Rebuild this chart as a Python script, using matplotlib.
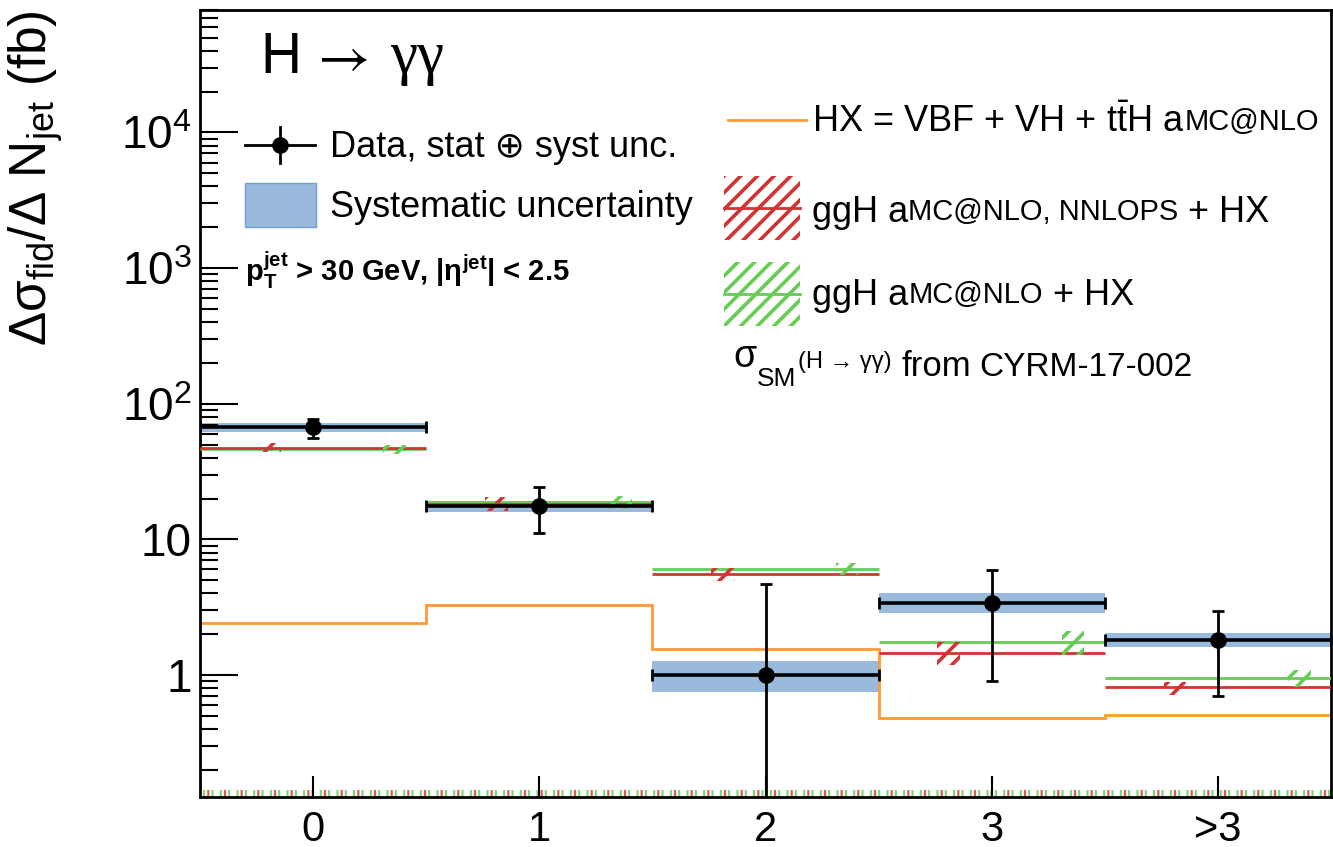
import matplotlib
matplotlib.use('Agg')
import matplotlib.pyplot as plt
import numpy as np
from matplotlib.patches import Rectangle
from matplotlib.lines import Line2D
from matplotlib.ticker import FixedLocator, LogLocator, NullFormatter

plt.rcParams['font.family'] = ['Liberation Sans', 'DejaVu Sans']
plt.rcParams['mathtext.fontset'] = 'custom'
plt.rcParams['mathtext.rm'] = 'Liberation Sans'
plt.rcParams['mathtext.it'] = 'Liberation Sans:italic'
plt.rcParams['mathtext.bf'] = 'Liberation Sans:bold'
plt.rcParams['hatch.linewidth'] = 2.6

# values
njet_labels = ['0', '1', '2', '3', '>3']
data = np.array([67, 17.6, 1.0, 3.39, 1.81])
data_up = np.array([77, 24.3, 4.68, 5.94, 2.96])
data_dn = np.array([55.8, 11.1, 0.0, 0.90, 0.70])
syst_up = np.array([72, 19.1, 1.27, 4.02, 2.04])
syst_dn = np.array([62, 15.9, 0.75, 2.86, 1.61])
hx = np.array([2.42, 3.28, 1.55, 0.48, 0.51])
nnlops = np.array([47, 18.2, 5.55, 1.45, 0.82])
nnlops_up = np.array([51, 20.5, 6.2, 1.75, 0.89])
nnlops_dn = np.array([44, 16.2, 4.9, 1.18, 0.71])
amcnlo = np.array([46, 18.8, 6.03, 1.75, 0.95])
amcnlo_up = np.array([50, 21, 6.7, 2.1, 1.09])
amcnlo_dn = np.array([42.6, 16.8, 5.5, 1.4, 0.82])

blue = '#99b9dd'
blue_edge = '#6f9fd6'
orange = '#ff9933'
red = '#d23333'
green = '#66cc55'

W, H = 1333, 847
fig = plt.figure(figsize=(W / 100, H / 100), dpi=100)
ax = fig.add_axes([200 / W, 50 / H, 1131 / W, 787 / H])

YMIN, YMAX = 0.126, 8e4
x = np.arange(len(data))
edges = np.arange(-0.5, len(data) + 0.5, 1.0)

# systematic band
ax.bar(x, syst_up - syst_dn, bottom=syst_dn, width=1.0, color=blue, lw=0, zorder=1)

# hatched leftovers of the theory bands along the x axis
with plt.rc_context({'hatch.linewidth': 1.6}):
    ax.bar(x, np.full(len(x), YMIN * 0.12), bottom=YMIN, width=1.0, facecolor='none',
           edgecolor=green, hatch='||', lw=0, alpha=0.8, zorder=1)
    ax.bar(x, np.full(len(x), YMIN * 0.12), bottom=YMIN, width=1.0, facecolor='none',
           edgecolor=red, hatch='|', lw=0, alpha=0.8, zorder=1)

# predictions
ax.stairs(hx, edges, color=orange, lw=2, baseline=None, zorder=2)
ax.hlines(amcnlo, x - 0.5, x + 0.5, color=green, lw=2, zorder=3)
ax.hlines(nnlops, x - 0.5, x + 0.5, color=red, lw=2, zorder=3)
ax.bar(x - 0.19, nnlops_up - nnlops_dn, bottom=nnlops_dn, width=0.1,
       facecolor='none', edgecolor=red, hatch='//', lw=0, zorder=3)
ax.bar(x + 0.36, amcnlo_up - amcnlo_dn, bottom=amcnlo_dn, width=0.1,
       facecolor='none', edgecolor=green, hatch='//', lw=0, zorder=3)

# data
ax.errorbar(x, data, xerr=0.5, fmt='none', ecolor='k', elinewidth=2.6,
            capsize=4, capthick=2, zorder=5)
ax.errorbar(x, data, yerr=[data - data_dn, data_up - data], fmt='o', color='k',
            ms=11, elinewidth=2, capsize=4, capthick=2, zorder=6)

ax.set_yscale('log')
ax.set_xlim(-0.5, 4.5)
ax.set_ylim(YMIN, YMAX)
ax.yaxis.set_major_locator(FixedLocator([1, 10, 100, 1000, 10000]))
ax.set_yticklabels(['1', '10', '$10^{2}$', '$10^{3}$', '$10^{4}$'])
ax.yaxis.set_minor_locator(LogLocator(base=10, subs=np.arange(2, 10)))
ax.yaxis.set_minor_formatter(NullFormatter())
ax.set_xticks(x, njet_labels)
ax.tick_params(axis='y', which='major', direction='in', length=27, width=1.5,
               labelsize=33, pad=6)
ax.tick_params(axis='y', which='minor', direction='in', length=13, width=1.5)
ax.tick_params(axis='x', which='major', direction='in', length=15, width=1.5,
               labelsize=30, pad=9)
for s in ax.spines.values():
    s.set_linewidth(2)


def fx(px):
    return px / W


def fy(py):
    return 1 - py / H


renderer = fig.canvas.get_renderer()


def rich_text(x0, base, pieces, **kw):
    # pieces: (text, fontsize, gap in px after it, raise in px)
    xx = x0
    for s, size, gap, dy in pieces:
        t = fig.text(fx(xx), fy(base - dy), s, fontsize=size, va='baseline', ha='left', **kw)
        xx += t.get_window_extent(renderer).width + gap


# left legend
fig.add_artist(Line2D([fx(245), fx(315)], [fy(145), fy(145)], color='k', lw=2,
                      transform=fig.transFigure))
fig.add_artist(Line2D([fx(280), fx(280)], [fy(127), fy(163)], color='k', lw=2,
                      transform=fig.transFigure))
fig.add_artist(Line2D([fx(280)], [fy(145)], marker='o', ms=11, color='k',
                      transform=fig.transFigure))
fig.add_artist(Rectangle((fx(245), fy(227)), fx(316) - fx(245), fy(183) - fy(227),
                         facecolor=blue, edgecolor=blue_edge, lw=1,
                         transform=fig.transFigure))
rich_text(330, 157, [('Data, stat ⊕ syst unc.', 26, 0, 0)])
rich_text(330, 217, [('Systematic uncertainty', 26, 0, 0)])
rich_text(245, 281, [(r'$\mathbf{p_{T}^{jet}}$ > 30 GeV, |η$^{\mathbf{jet}}$| < 2.5', 21, 0, 0)],
          fontweight='bold')

# right legend
fig.add_artist(Line2D([fx(728), fx(806)], [fy(120), fy(120)], color=orange, lw=2,
                      transform=fig.transFigure))
for col, top in [(red, 176), (green, 262)]:
    fig.add_artist(Rectangle((fx(724), fy(top + 64)), fx(800) - fx(724), fy(top) - fy(top + 64),
                             facecolor='none', edgecolor=col, hatch='//', lw=0,
                             transform=fig.transFigure))
    fig.add_artist(Line2D([fx(724), fx(800)], [fy(top + 32), fy(top + 32)], color=col, lw=2,
                          transform=fig.transFigure))
rich_text(812, 132, [(r'HX = VBF + VH + t$\bar{\mathrm{t}}$H a', 26, 0, 0), ('MC@NLO', 21, 0, 2)])
rich_text(812, 222, [('ggH a', 26, 0, 0), ('MC@NLO, NNLOPS', 21, 10, 2), ('+ HX', 26, 0, 0)])
rich_text(812, 305, [('ggH a', 26, 0, 0), ('MC@NLO', 21, 10, 2), ('+ HX', 26, 0, 0)])
rich_text(733, 376, [('σ', 27, 1, 9), ('SM', 19, 1, -10), ('(H → γγ)', 17, 10, 8),
                     ('from', 25, 8, 0), ('CYRM-17-002', 24, 0, 0)])

# title and axis title
fig.text(fx(260), fy(73), 'H', fontsize=41, va='baseline', ha='left')
fig.text(fx(309), fy(73), r'$\rightarrow$', fontsize=41, va='baseline',
         ha='left', math_fontfamily='stix')
fig.text(fx(390), fy(73), 'γγ', fontsize=44, va='baseline', ha='left',
         family=['Liberation Serif', 'DejaVu Serif'])
fig.text(fx(36), fy(10), r'Δσ$_{\rm fid}$/Δ N$_{\rm jet}$ (fb)',
         fontsize=37, rotation=90, va='top', ha='center')

fig.savefig('out.png', dpi=100)
